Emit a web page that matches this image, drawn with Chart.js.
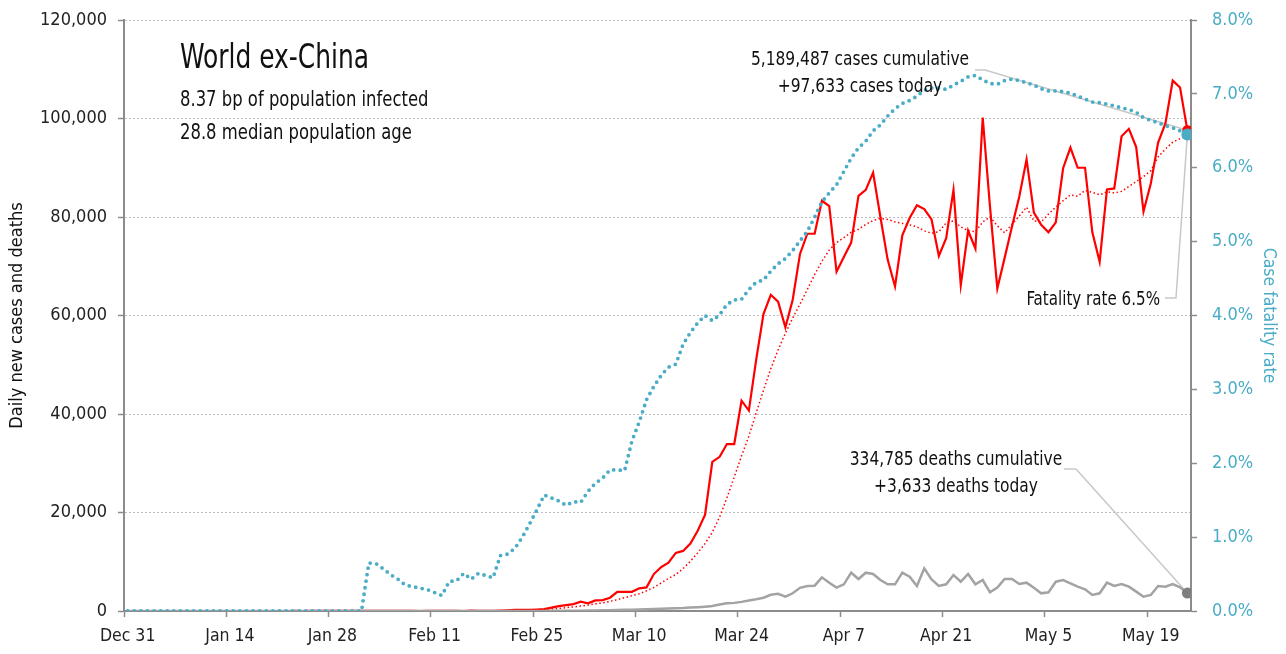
<!DOCTYPE html>
<html>
<head>
<meta charset="utf-8">
<script src="https://cdn.jsdelivr.net/npm/chart.js@4"></script>
<style>
  html, body { margin: 0; padding: 0; background: #fff; }
  #wrap { width: 1286px; height: 654px; position: relative; }
</style>
</head>
<body>
<div id="wrap"><canvas id="chart"></canvas></div>
<script>
  // Daily data, one value per day starting Dec 31 (day 0) up to May 24 (day 145)
  const cases = [
    0,0,0,0,0,0,0,0,0,0,0,0,0,
    1,0,0,1,1,2,0,3,
    5,5,7,4,12,8,14,8,6,14,20,
    22,6,10,20,12,25,40,10,4,6,40,8,20,13,2,85,15,30,50,90,
    150,220,250,250,300,380,700,1000,1200,1400,
    1900,1550,2150,2200,2700,3900,3900,3900,4600,4800,
    7500,8900,9800,11800,12200,13700,16300,19500,30300,31300,
    33900,33900,42700,40700,51000,60300,64200,62800,57600,63200,
    72500,76600,76600,83300,82200,68900,71900,74800,84300,85500,
    89000,80000,71300,65900,76300,79800,82400,81600,79500,72100,
    75700,85500,66200,77200,73600,100200,82000,65500,71700,78000,
    84100,91700,80900,78400,76900,78900,89900,94100,90000,90000,
    76900,70900,85600,85800,96400,97900,94200,81100,86800,95100,
    99000,107700,106300,97633
  ];

  // Smoothed daily cases (dotted red)
  const casesAvg = [
    0,0,0,0,0,0,0,0,0,0,0,0,0,
    0,0,0,0,1,1,1,1,2,3,4,5,6,7,8,9,10,11,12,13,14,13,14,15,
    16,17,18,17,16,15,14,15,16,17,20,25,28,35,55,
    100,150,180,220,270,330,420,540,680,830,
    1000,1200,1450,1650,1950,2300,2700,3100,3500,4100,
    4800,5700,6600,7400,8600,10100,11800,13700,16000,19100,
    23000,27200,31500,35500,40200,44800,49200,53000,56400,59500,
    62300,65300,68300,71000,73300,74800,75800,76900,77500,78500,
    79300,79700,79500,79000,78700,78400,78000,77200,76700,77000,
    78800,79200,78000,77200,77000,79000,80000,78200,76800,78500,
    80200,82000,79200,79000,80600,82000,83300,84500,84200,85400,
    85000,84500,85100,84900,85200,86200,87200,88200,89400,92200,
    93800,95200,95900,96500
  ];

  const deaths = [
    0,0,0,0,0,0,0,0,0,0,0,0,0,0,0,0,0,0,0,0,0,0,0,0,0,0,0,0,0,0,0,0,0,
    1,0,0,0,0,0,1,0,0,0,
    0,1,1,1,2,3,2,5,8,10,
    12,12,15,20,25,30,45,50,
    60,70,90,110,130,160,200,230,260,300,
    350,400,450,500,550,600,700,780,880,1000,
    1300,1550,1650,1850,2150,2400,2700,3300,3500,2900,
    3600,4700,5080,5140,6840,5750,4740,5420,7780,6500,
    7780,7510,6290,5420,5420,7780,6970,5080,8670,6430,
    5080,5420,7310,5950,7510,5420,6290,3790,4740,6500,
    6500,5480,5750,4740,3590,3790,5950,6290,5620,4940,
    4400,3250,3590,5750,5080,5480,4940,3930,2910,3250,
    5080,4940,5480,4810,3633
  ];

  // Case fatality rate, percent
  const fatalityRate = [
    0,0,0,0,0,0,0,0,0,0,0,0,0,0,0,0,0,0,0,0,0,0,0,0,0,0,0,0,0,0,0,0,0,
    0.65,0.64,0.57,0.49,0.43,0.35,0.33,0.31,0.29,0.25,
    0.21,0.40,0.41,0.51,0.43,0.51,0.48,0.45,0.75,0.77,
    0.85,1.00,1.18,1.37,1.57,1.53,1.49,1.43,1.48,1.47,
    1.62,1.73,1.80,1.91,1.91,1.90,2.30,2.56,2.86,3.04,
    3.19,3.30,3.34,3.61,3.77,3.90,4.00,3.93,4.01,4.15,
    4.21,4.22,4.35,4.45,4.48,4.60,4.70,4.77,4.88,5.01,
    5.14,5.33,5.54,5.66,5.77,5.95,6.13,6.27,6.36,6.50,
    6.58,6.70,6.80,6.87,6.91,6.97,7.05,7.08,7.08,7.06,
    7.12,7.17,7.23,7.25,7.19,7.14,7.13,7.18,7.20,7.18,
    7.15,7.12,7.07,7.04,7.04,7.03,7.01,6.97,6.93,6.89,
    6.88,6.86,6.84,6.81,6.79,6.75,6.68,6.64,6.61,6.57,
    6.54,6.50,6.45
  ];

  const xTickDays = [0, 14, 28, 42, 56, 70, 84, 98, 112, 126, 140];
  const xTickLabels = ['Dec 31', 'Jan 14', 'Jan 28', 'Feb 11', 'Feb 25', 'Mar 10', 'Mar 24', 'Apr 7', 'Apr 21', 'May 5', 'May 19'];

  const titleLines = ['World ex-China', '8.37 bp of population infected', '28.8 median population age'];
  const casesNote = ['5,189,487 cases cumulative', '+97,633 cases today'];
  const deathsNote = ['334,785 deaths cumulative', '+3,633 deaths today'];
  const fatalityNote = 'Fatality rate 6.5%';

  const FONT = '"DejaVu Sans Condensed", "DejaVu Sans", sans-serif';
  const BLUE = '#4bacc6';
  const RED = '#ff0000';
  const GREY = '#a3a3a3';
  const AXIS = '#8c8c8c';
  const last = cases.length - 1;

  const toPoints = arr => arr.map((v, i) => ({ x: i, y: v }));
  const endOnly = r => ctx => (ctx.dataIndex === last ? r : 0);

  Chart.defaults.font.family = FONT;

  // narrow text, the source uses a condensed face
  function narrowText(ctx, text, x, y, align, sx) {
    ctx.save();
    ctx.translate(x, y);
    ctx.scale(sx, 1);
    ctx.textAlign = align;
    ctx.fillText(text, 0, 0);
    ctx.restore();
  }

  // Titles, notes and leader lines
  const notesPlugin = {
    id: 'notes',
    beforeDatasetsDraw(chart) {
      const { ctx } = chart;
      const x = chart.scales.x, y = chart.scales.y, y1 = chart.scales.y1;
      const px = x.getPixelForValue(last);
      ctx.save();
      ctx.strokeStyle = '#c8c8c8';
      ctx.lineWidth = 1.5;
      ctx.beginPath();
      // cases
      ctx.moveTo(975, 70); ctx.lineTo(985, 70);
      ctx.lineTo(px, y.getPixelForValue(cases[last]));
      // fatality
      ctx.moveTo(1165, 298); ctx.lineTo(1176, 298);
      ctx.lineTo(px, y1.getPixelForValue(fatalityRate[last]));
      // deaths
      ctx.moveTo(1064, 469); ctx.lineTo(1076, 469);
      ctx.lineTo(px, y.getPixelForValue(deaths[last]));
      ctx.stroke();
      ctx.restore();
    },
    afterDraw(chart) {
      const { ctx } = chart;
      ctx.save();
      ctx.fillStyle = '#111';
      ctx.textBaseline = 'alphabetic';
      ctx.font = '33px ' + FONT;
      narrowText(ctx, titleLines[0], 180, 68, 'left', 0.84);
      ctx.font = '22px ' + FONT;
      narrowText(ctx, titleLines[1], 180, 106, 'left', 0.83);
      narrowText(ctx, titleLines[2], 180, 139, 'left', 0.83);

      ctx.font = '20px ' + FONT;
      narrowText(ctx, casesNote[0], 860, 65, 'center', 0.86);
      narrowText(ctx, casesNote[1], 860, 92, 'center', 0.86);
      narrowText(ctx, deathsNote[0], 956, 465, 'center', 0.86);
      narrowText(ctx, deathsNote[1], 956, 492, 'center', 0.86);
      narrowText(ctx, fatalityNote, 1160, 305, 'right', 0.84);
      ctx.restore();
    }
  };

  new Chart(document.getElementById('chart'), {
    type: 'line',
    data: {
      datasets: [
        {
          label: 'Case fatality rate',
          data: toPoints(fatalityRate),
          yAxisID: 'y1',
          borderColor: BLUE,
          borderWidth: 3.8,
          borderDash: [0, 6.6],
          borderCapStyle: 'round',
          pointRadius: endOnly(6),
          pointBackgroundColor: BLUE,
          pointBorderWidth: 0,
          order: 0
        },
        {
          label: 'Daily deaths',
          data: toPoints(deaths),
          borderColor: GREY,
          borderWidth: 2.5,
          pointRadius: endOnly(5.5),
          pointBackgroundColor: '#7f7f7f',
          pointBorderWidth: 0,
          order: 1
        },
        {
          label: 'Daily new cases',
          data: toPoints(cases),
          borderColor: RED,
          borderWidth: 2.2,
          pointRadius: endOnly(5),
          pointBackgroundColor: RED,
          pointBorderWidth: 0,
          order: 2
        },
        {
          label: 'Daily new cases, smoothed',
          data: toPoints(casesAvg),
          borderColor: RED,
          borderWidth: 1.5,
          borderDash: [1.5, 2.5],
          pointRadius: 0,
          order: 3
        }
      ]
    },
    options: {
      responsive: true,
      maintainAspectRatio: false,
      animation: false,
      layout: { padding: { top: 20, left: 0, right: 0, bottom: 0 } },
      plugins: {
        legend: { display: false },
        tooltip: { enabled: false }
      },
      scales: {
        x: {
          type: 'linear',
          min: -0.5,
          max: last + 0.5,
          afterBuildTicks: axis => {
            axis.ticks = xTickDays.map(d => ({ value: d - 0.5 }));
          },
          afterFit: s => { s.height = 43; s.paddingLeft = 0; s.paddingRight = 0; },
          ticks: {
            autoSkip: false,
            maxRotation: 0,
            labelOffset: 3.65,
            padding: 9,
            color: '#222',
            font: { size: 17.5 },
            callback: (v, i) => xTickLabels[i]
          },
          grid: {
            drawOnChartArea: false,
            tickLength: 6,
            tickColor: AXIS,
            tickWidth: 1.5
          },
          border: { color: AXIS, width: 2 }
        },
        y: {
          position: 'left',
          min: 0,
          max: 120000,
          afterFit: s => { s.width = 124; s.paddingTop = 0; s.paddingBottom = 0; },
          ticks: {
            stepSize: 20000,
            padding: 11,
            color: '#222',
            font: { size: 18 },
            callback: v => v.toLocaleString('en-US')
          },
          grid: {
            color: ctx => (ctx.tick && ctx.tick.value === 0 ? 'rgba(0,0,0,0)' : '#bdbdbd'),
            lineWidth: 1,
            tickLength: 6,
            tickColor: AXIS,
            tickWidth: 1.5
          },
          border: { color: AXIS, width: 2, dash: [2, 2] },
          title: {
            display: true,
            text: 'Daily new cases and deaths',
            color: '#111',
            font: { size: 18 },
            padding: { top: 7, bottom: 0 }
          }
        },
        y1: {
          position: 'right',
          min: 0,
          max: 8,
          afterFit: s => { s.width = 95; s.paddingTop = 0; s.paddingBottom = 0; },
          ticks: {
            stepSize: 1,
            padding: 15,
            color: BLUE,
            font: { size: 18 },
            callback: v => v.toFixed(1) + '%'
          },
          grid: {
            drawOnChartArea: false,
            tickLength: 6,
            tickColor: AXIS,
            tickWidth: 1.5
          },
          border: { color: AXIS, width: 2 },
          title: {
            display: true,
            text: 'Case fatality rate',
            color: BLUE,
            font: { size: 17.5 },
            padding: { top: 7, bottom: 0 }
          }
        }
      }
    },
    plugins: [notesPlugin]
  });
</script>
</body>
</html>
